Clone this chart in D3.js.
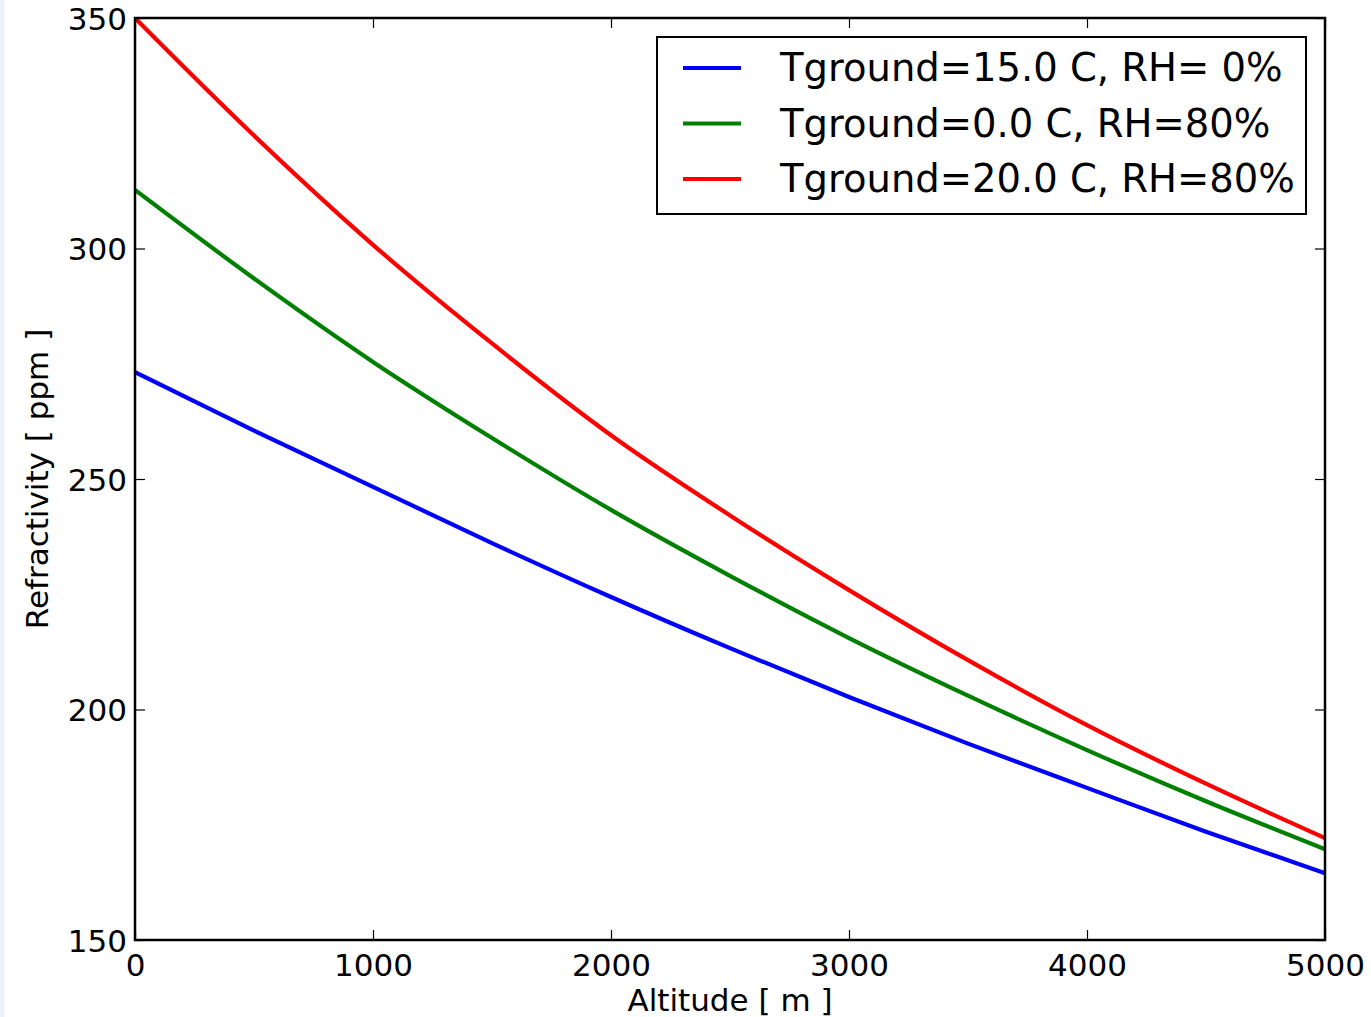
<!DOCTYPE html>
<html lang="en">

<head>
  <meta charset="UTF-8">
  <title>Refractivity vs altitude</title>
  <style>
    html, body { margin: 0; padding: 0; background: #fff; }
    svg { display: block; font-family: "DejaVu Sans", sans-serif; }
  </style>
</head>
<script src='https://d3js.org/d3.v7.min.js'></script>

<body>
  <div id="d3"></div>
</body>

<script>
  const w = 1371,
    h = 1017;

  // altitude in metres
  const altitude = [0, 500, 1000, 1500, 2000, 2500, 3000, 3500, 4000, 4500, 5000];

  // refractivity in ppm
  const dry15 = [273.2, 260.5, 248.3, 236.1, 224.4, 213.3, 202.7, 192.6, 183.0, 173.5, 164.5];
  const wet0 = [312.7, 293.5, 275.4, 258.9, 243.3, 229.0, 215.5, 203.0, 191.2, 180.1, 169.7];
  const wet20 = [350.0, 324.5, 300.8, 279.4, 259.5, 242.1, 225.9, 210.7, 196.6, 183.9, 172.1];

  const seriesNames = ['Tground=15.0 C, RH= 0%', 'Tground=0.0 C, RH=80%', 'Tground=20.0 C, RH=80%'];
  const seriesColors = ['#0000ff', '#008000', '#ff0000'];
  const seriesValues = [dry15, wet0, wet20];

  const xTicks = [0, 1000, 2000, 3000, 4000, 5000];
  const yTicks = [150, 200, 250, 300, 350];

  const margin = { left: 135, right: 46, top: 18, bottom: 77 };

  const svg = d3.select("#d3").append("svg")
    .attr("width", w)
    .attr("height", h)

  // the thin tinted strip on the left edge
  svg.append('rect')
    .attr('x', 0).attr('y', 0)
    .attr('width', 4).attr('height', h)
    .attr('fill', '#edf2fa')

  const x = d3.scaleLinear().domain([0, 5000]).range([margin.left, w - margin.right]);
  const y = d3.scaleLinear().domain([150, 350]).range([h - margin.bottom, margin.top]);

  const plot = svg.append('g');

  plot.append('clipPath').attr('id', 'clip')
    .append('rect')
    .attr('x', x(0)).attr('y', y(350))
    .attr('width', x(5000) - x(0)).attr('height', y(150) - y(350))

  const line = d3.line()
    .x((d, i) => x(altitude[i]))
    .y((d) => y(d))
    .curve(d3.curveMonotoneX)

  // DRAWING LINES
  plot.append('g')
    .attr('clip-path', 'url(#clip)')
    .selectAll('path')
    .data(seriesValues)
    .enter()
    .append('path')
    .attr('d', (d) => line(d))
    .attr('fill', 'none')
    .attr('stroke', (d, i) => seriesColors[i])
    .attr('stroke-width', 4.2)
    .attr('stroke-linejoin', 'round')

  // AXES - matplotlib classic style: ticks inside on all four sides
  const tickLen = 10;
  const axisBottom = d3.axisBottom(x).tickValues(xTicks).tickFormat(d3.format('d'))
    .tickSizeInner(-tickLen).tickSizeOuter(0).tickPadding(14);
  const axisTop = d3.axisTop(x).tickValues(xTicks).tickSizeInner(-tickLen).tickSizeOuter(0).tickFormat('');
  const axisLeft = d3.axisLeft(y).tickValues(yTicks).tickSizeInner(-tickLen).tickSizeOuter(0).tickPadding(8);
  const axisRight = d3.axisRight(y).tickValues(yTicks).tickSizeInner(-tickLen).tickSizeOuter(0).tickFormat('');

  const styleAxis = (g) => {
    g.select('.domain').remove();
    g.selectAll('line').attr('stroke', '#000').attr('stroke-width', 1.2);
    g.selectAll('text').attr('fill', '#000').style('font-size', '31px').style('font-family', '"DejaVu Sans", sans-serif');
  }

  svg.append('g').attr('transform', `translate(0,${y(150)})`).call(axisBottom).call(styleAxis);
  svg.append('g').attr('transform', `translate(0,${y(350)})`).call(axisTop).call(styleAxis);
  svg.append('g').attr('transform', `translate(${x(0)},0)`).call(axisLeft).call(styleAxis)
    .selectAll('text').attr('dy', '0.36em');
  svg.append('g').attr('transform', `translate(${x(5000)},0)`).call(axisRight).call(styleAxis);

  // frame
  svg.append('rect')
    .attr('x', x(0)).attr('y', y(350))
    .attr('width', x(5000) - x(0)).attr('height', y(150) - y(350))
    .attr('fill', 'none')
    .attr('stroke', '#000')
    .attr('stroke-width', 2.5)

  // AXIS LABELS
  svg.append('text')
    .attr('x', (x(0) + x(5000)) / 2)
    .attr('y', 1011)
    .attr('text-anchor', 'middle')
    .style('font-size', '31px')
    .text('Altitude [ m ]')

  svg.append('text')
    .attr('transform', `translate(48,${(y(150) + y(350)) / 2}) rotate(-90)`)
    .attr('text-anchor', 'middle')
    .style('font-size', '31px')
    .text('Refractivity [ ppm ]')

  // LEGEND
  const legend = svg.append('g').attr('transform', 'translate(657,37)');

  legend.append('rect')
    .attr('x', 0).attr('y', 0)
    .attr('width', 649).attr('height', 177)
    .attr('fill', '#fff')
    .attr('stroke', '#000')
    .attr('stroke-width', 2)

  const items = legend.selectAll('.legend-item')
    .data(seriesNames)
    .enter()
    .append('g')
    .attr('class', 'legend-item')
    .attr('transform', (d, i) => `translate(0,${31 + i * 55.5})`)

  items.append('line')
    .attr('x1', 26).attr('x2', 84)
    .attr('y1', 0).attr('y2', 0)
    .attr('stroke', (d, i) => seriesColors[i])
    .attr('stroke-width', 4.2)

  items.append('text')
    .attr('x', 123)
    .attr('y', 13)
    .style('font-size', '38.5px')
    .text((d) => d)
</script>

</html>
